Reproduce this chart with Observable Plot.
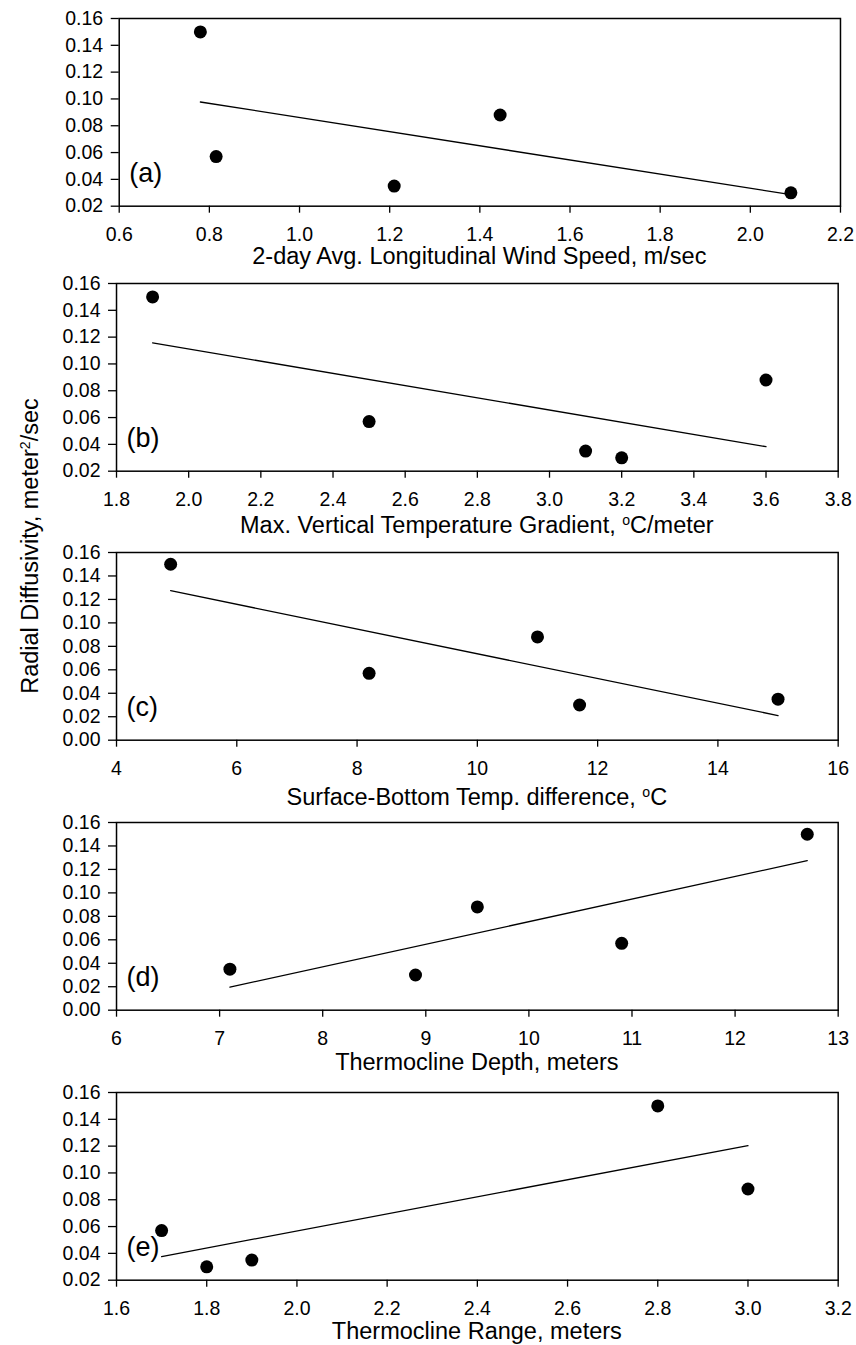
<!DOCTYPE html>
<html>
<head>
<meta charset="utf-8">
<script src="https://cdn.jsdelivr.net/npm/d3@7"></script>
<script src="https://cdn.jsdelivr.net/npm/@observablehq/plot@0.6"></script>
<style>
  body { margin: 0; background: #fff; }
  #chart { position: relative; width: 856px; height: 1345px; background: #fff;
           font-family: "Liberation Sans", Arial, sans-serif; color: #000; }
  .panel { position: absolute; left: 0; }
  .xtitle { position: absolute; font-size: 23.5px; line-height: 24px; text-align: center; white-space: nowrap; }
  .ytitle { position: absolute; font-size: 23.5px; line-height: 24px; text-align: center; white-space: nowrap;
            width: 400px; left: -170px; top: 534px; transform: rotate(-90deg); transform-origin: 50% 50%; }
  .sup { font-size: 0.6em; line-height: 0; position: relative; top: -0.55em; }
</style>
</head>
<body>
<div id="chart"></div>
<script>
// ---- Data ----
// Radial diffusivity, meter^2/sec, against five explanatory variables
const windSpeed      = [0.78, 0.815, 1.21, 1.445, 2.09];
const diffusivityA   = [0.150, 0.057, 0.035, 0.088, 0.030];

const tempGradient   = [1.9, 2.5, 3.1, 3.2, 3.6];
const diffusivityB   = [0.150, 0.057, 0.035, 0.030, 0.088];

const tempDifference = [4.9, 8.2, 11.0, 11.7, 15.0];
const diffusivityC   = [0.150, 0.057, 0.088, 0.030, 0.035];

const thermoDepth    = [7.1, 8.9, 9.5, 10.9, 12.7];
const diffusivityD   = [0.035, 0.030, 0.088, 0.057, 0.150];

const thermoRange    = [1.7, 1.8, 1.9, 2.8, 3.0];
const diffusivityE   = [0.057, 0.030, 0.035, 0.150, 0.088];

// Tick values
const xTicksA = [0.6, 0.8, 1.0, 1.2, 1.4, 1.6, 1.8, 2.0, 2.2];
const xTicksB = [1.8, 2.0, 2.2, 2.4, 2.6, 2.8, 3.0, 3.2, 3.4, 3.6, 3.8];
const xTicksC = [4, 6, 8, 10, 12, 14, 16];
const xTicksD = [6, 7, 8, 9, 10, 11, 12, 13];
const xTicksE = [1.6, 1.8, 2.0, 2.2, 2.4, 2.6, 2.8, 3.0, 3.2];
const yTicks02 = [0.02, 0.04, 0.06, 0.08, 0.10, 0.12, 0.14, 0.16];
const yTicks00 = [0.00, 0.02, 0.04, 0.06, 0.08, 0.10, 0.12, 0.14, 0.16];

const panelTags = ["(a)", "(b)", "(c)", "(d)", "(e)"];
const xTitles = [
  "2-day Avg. Longitudinal Wind Speed, m/sec",
  'Max. Vertical Temperature Gradient, <span class="sup">o</span>C/meter',
  'Surface-Bottom Temp. difference, <span class="sup">o</span>C',
  "Thermocline Depth, meters",
  "Thermocline Range, meters"
];
const yTitle = 'Radial Diffusivity, meter<span class="sup">2</span>/sec';

// ---- Layout ----
const MT = 12, FH = 187.7, MB = 48;
const panels = [
  {x: windSpeed, y: diffusivityA, xTicks: xTicksA, yTicks: yTicks02, fmt: ".1f", top: 17.7, left: 118.7, right: 16, base: 264},
  {x: tempGradient, y: diffusivityB, xTicks: xTicksB, yTicks: yTicks02, fmt: ".1f", top: 282.7, left: 116, right: 18.3, base: 533},
  {x: tempDifference, y: diffusivityC, xTicks: xTicksC, yTicks: yTicks00, fmt: "d", top: 552.3, left: 116, right: 18.3, base: 805},
  {x: thermoDepth, y: diffusivityD, xTicks: xTicksD, yTicks: yTicks00, fmt: "d", top: 822.3, left: 116, right: 18.3, base: 1070},
  {x: thermoRange, y: diffusivityE, xTicks: xTicksE, yTicks: yTicks02, fmt: ".1f", top: 1092.3, left: 116, right: 18.3, base: 1339}
];

const chart = document.getElementById("chart");

panels.forEach((p, i) => {
  const data = p.x.map((x, k) => ({x, y: p.y[k]}));
  const xDomain = [p.xTicks[0], p.xTicks[p.xTicks.length - 1]];
  const yDomain = [p.yTicks[0], p.yTicks[p.yTicks.length - 1]];
  const svg = Plot.plot({
    width: 856,
    height: MT + FH + MB,
    marginTop: MT,
    marginBottom: MB,
    marginLeft: p.left,
    marginRight: p.right,
    style: {fontFamily: '"Liberation Sans", Arial, sans-serif', fontSize: "19.5px", color: "#000", background: "transparent", overflow: "visible"},
    x: {domain: xDomain},
    y: {domain: yDomain},
    marks: [
      Plot.axisX({ticks: p.xTicks, tickFormat: d3.format(p.fmt), tickSize: 7, tickPadding: 14, label: null, strokeWidth: 1.3, fontSize: 19.5}),
      Plot.axisY({ticks: p.yTicks, tickFormat: d3.format(".2f"), tickSize: 8, tickPadding: 8, label: null, strokeWidth: 1.3, fontSize: 19.5}),
      Plot.frame({stroke: "#000", strokeWidth: 1.5}),
      Plot.linearRegressionY(data, {x: "x", y: "y", ci: 0, stroke: "#000", strokeWidth: 1.3}),
      Plot.dot(data, {x: "x", y: "y", r: 6.5, fill: "#000", stroke: "none"}),
      Plot.text([panelTags[i]], {text: d => d, frameAnchor: "bottom-left", textAnchor: "start", dx: 10, dy: -24, fontSize: 27, fill: "#000"})
    ]
  });
  const div = document.createElement("div");
  div.className = "panel";
  div.style.top = (p.top - MT) + "px";
  div.appendChild(svg);
  chart.appendChild(div);

  const t = document.createElement("div");
  t.className = "xtitle";
  t.style.left = p.left + "px";
  t.style.width = (856 - p.left - p.right) + "px";
  t.style.top = (p.base - 20) + "px";
  t.innerHTML = xTitles[i];
  chart.appendChild(t);
});

const yt = document.createElement("div");
yt.className = "ytitle";
yt.innerHTML = yTitle;
chart.appendChild(yt);
</script>
</body>
</html>
